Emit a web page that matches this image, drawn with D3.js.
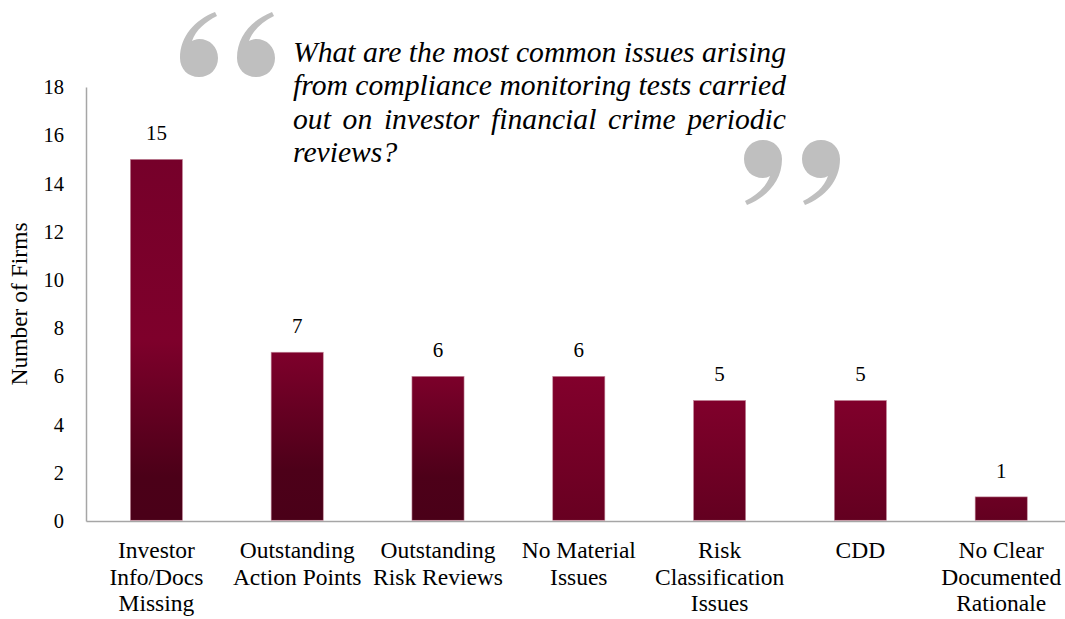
<!DOCTYPE html>
<html>
<head>
<meta charset="utf-8">
<script src="https://cdn.jsdelivr.net/npm/d3@7"></script>
<style>
  html, body { margin: 0; padding: 0; background: #ffffff; }
  svg { display: block; }
  text { font-family: "Liberation Serif", "Times New Roman", serif; }
</style>
</head>
<body>
<svg id="chart" width="1065" height="619"></svg>
<script>
// Survey responses: number of firms citing each issue
const categories = [
  ["Investor", "Info/Docs", "Missing"],
  ["Outstanding", "Action Points"],
  ["Outstanding", "Risk Reviews"],
  ["No Material", "Issues"],
  ["Risk", "Classification", "Issues"],
  ["CDD"],
  ["No Clear", "Documented", "Rationale"]
];
const firms = [15, 7, 6, 6, 5, 5, 1];
const yTicks = [0, 2, 4, 6, 8, 10, 12, 14, 16, 18];
const questionLines = [
  "What are the most common issues arising",
  "from compliance monitoring tests carried",
  "out on investor financial crime periodic",
  "reviews?"
];

// Fill shading for each bar (top → bottom)
const barShades = [
  [[0, "#76002a"], [0.5, "#7e002b"], [0.88, "#4b0018"], [1, "#4a0018"]],
  [[0, "#7e002b"], [0.7, "#4d0019"], [1, "#4a0018"]],
  [[0, "#7c002a"], [0.7, "#4d0019"], [1, "#4a0018"]],
  [[0, "#82002c"], [1, "#680021"]],
  [[0, "#80002b"], [1, "#630020"]],
  [[0, "#80002b"], [1, "#630020"]],
  [[0, "#6c0023"], [1, "#630020"]]
];

const svg = d3.select("#chart");
const margin = { left: 86, top: 87, bottom: 521 };
const bandWidth = 140.8;

const x = d3.scaleBand()
  .domain(d3.range(categories.length))
  .range([margin.left, margin.left + bandWidth * categories.length])
  .paddingInner(0.63)
  .paddingOuter(0.315);

const y = d3.scaleLinear().domain([0, 18]).range([margin.bottom, margin.top]);

// gradients
const defs = svg.append("defs");
barShades.forEach((stops, i) => {
  const g = defs.append("linearGradient")
    .attr("id", "barFill" + i)
    .attr("x1", 0).attr("y1", 0).attr("x2", 0).attr("y2", 1);
  stops.forEach(s => g.append("stop").attr("offset", s[0]).attr("stop-color", s[1]));
});

// y axis
const yAxis = d3.axisLeft(y).tickValues(yTicks).tickSize(0).tickPadding(22);
const gy = svg.append("g").attr("transform", `translate(${margin.left},0)`).call(yAxis);
gy.select(".domain").attr("stroke", "#a6a6a6").attr("stroke-width", 1.5);
gy.selectAll("text").attr("font-size", 20.5).attr("fill", "#000");

// x axis line
const xAxis = d3.axisBottom(x).tickSize(0).tickFormat("");
const gx = svg.append("g").attr("transform", `translate(0,${margin.bottom})`).call(xAxis);
gx.select(".domain").attr("stroke", "#a6a6a6").attr("stroke-width", 1.5);

// axis title
svg.append("text")
  .attr("transform", `translate(27,${(margin.top + margin.bottom) / 2}) rotate(-90)`)
  .attr("text-anchor", "middle")
  .attr("font-size", 23.5)
  .attr("fill", "#000")
  .text("Number of Firms");

// bars
svg.append("g").selectAll("rect")
  .data(firms)
  .join("rect")
  .attr("x", (d, i) => x(i))
  .attr("width", x.bandwidth())
  .attr("y", d => y(d))
  .attr("height", d => y(0) - y(d) - 0.75)
  .attr("fill", (d, i) => `url(#barFill${i})`)
  .attr("stroke", "#c48a9c")
  .attr("stroke-width", 0.6);

// value labels
svg.append("g").selectAll("text")
  .data(firms)
  .join("text")
  .attr("x", (d, i) => x(i) + x.bandwidth() / 2)
  .attr("y", d => y(d) - 19)
  .attr("text-anchor", "middle")
  .attr("font-size", 21)
  .attr("fill", "#000")
  .text(d => d);

// category labels
const catG = svg.append("g");
categories.forEach((lines, i) => {
  const cx = x(i) + x.bandwidth() / 2;
  const t = catG.append("text")
    .attr("x", cx)
    .attr("y", 558)
    .attr("text-anchor", "middle")
    .attr("font-size", 23.5)
    .attr("fill", "#000");
  lines.forEach((ln, j) => {
    t.append("tspan")
      .attr("x", cx)
      .attr("dy", j === 0 ? 0 : 26.5)
      .text(ln);
  });
});

// decorative quote marks: a teardrop with a curling tail
const markPath = "M36,0 C16,8 1,24 1,46 C1,57 9,65 20,65 C31,65 39,57 39,46 " +
                 "C39,35 31,27 20,27 C17,27 15,28 13,29 C17,18 26,10 38,4 Z";
const quoteG = svg.append("g").attr("fill", "#bfbfbf");
[[179, 12], [236, 12]].forEach(p => {
  quoteG.append("path").attr("d", markPath)
    .attr("transform", `translate(${p[0]},${p[1]})`);
});
[[743, 140], [801, 140]].forEach(p => {
  quoteG.append("path").attr("d", markPath)
    .attr("transform", `translate(${p[0] + 40},${p[1] + 65}) rotate(180)`);
});

// question text, justified between two edges
const qLeft = 293, qRight = 786, qTop = 61.5, qLead = 33.5;
const qG = svg.append("g");
const probe = qG.append("text").attr("font-size", 28).attr("font-style", "italic").text(questionLines[0]);
const qSize = 28 * (qRight - qLeft) / probe.node().getComputedTextLength();
probe.remove();
questionLines.forEach((line, li) => {
  const words = line.split(" ");
  const yy = qTop + li * qLead;
  const last = li === questionLines.length - 1;
  const widths = words.map(w => {
    const tmp = qG.append("text").attr("font-size", qSize).attr("font-style", "italic").text(w);
    const wd = tmp.node().getComputedTextLength();
    tmp.remove();
    return wd;
  });
  const total = d3.sum(widths);
  const gap = last || words.length < 2 ? qSize * 0.25 : (qRight - qLeft - total) / (words.length - 1);
  let cx = qLeft;
  words.forEach((w, k) => {
    qG.append("text")
      .attr("x", cx).attr("y", yy)
      .attr("font-size", qSize)
      .attr("font-style", "italic")
      .attr("fill", "#000")
      .text(w);
    cx += widths[k] + gap;
  });
});
</script>
</body>
</html>
